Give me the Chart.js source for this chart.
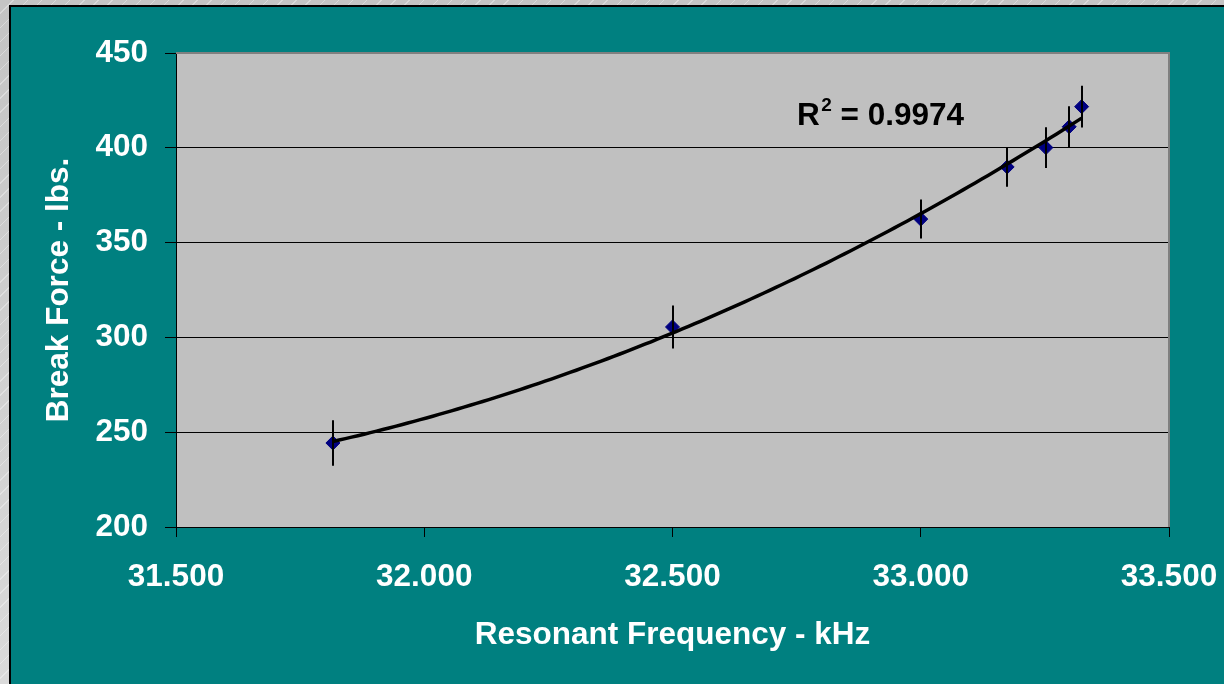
<!DOCTYPE html>
<html>
<head>
<meta charset="utf-8">
<title>Break Force vs Resonant Frequency</title>
<script src="https://cdn.jsdelivr.net/npm/chart.js@4.4.1/dist/chart.umd.min.js"></script>
<style>
  html, body { margin: 0; padding: 0; }
  body {
    width: 1224px; height: 684px; overflow: hidden; position: relative;
    background-color: #d2d2d2;
    background-image:
      repeating-linear-gradient(-45deg, rgba(255,255,255,0) 0px, rgba(255,255,255,0) 9px, rgba(255,255,255,0.35) 9px, rgba(255,255,255,0.35) 10px),
      linear-gradient(180deg, #c4c4c4 0%, #dadada 100%);
  }
  #panel {
    position: absolute; left: 9px; top: 5px; right: -4px; bottom: -4px;
    background: #008080;
    border-left: 2px solid #000; border-top: 2px solid #000;
  }
  #chart { position: absolute; left: 0; top: 0; }
</style>
</head>
<body>
<div id="panel"></div>
<canvas id="chart" width="1224" height="684"></canvas>
<script>
// Measured samples: resonant frequency (kHz) and break force (lbs.)
const frequencyKHz = [31.816, 32.500, 33.000, 33.174, 33.252, 33.299, 33.324];
const breakForceLbs = [244.3, 305.5, 362.4, 389.9, 400.1, 411.1, 421.7];
// Spread of each measurement (+/- lbs.)
const forceError = [12.0, 11.3, 10.3, 10.4, 10.7, 10.8, 11.0];
// Axis tick values
const xTicks = [31.5, 32.0, 32.5, 33.0, 33.5];
const yTicks = [200, 250, 300, 350, 400, 450];
const rSquaredText = '0.9974';

const FONT = '"Liberation Sans", Arial, Helvetica, sans-serif';

// Second-order least-squares trend through the measured points
function quadFit(xs, ys) {
  const x0 = xs.reduce((a, b) => a + b, 0) / xs.length;
  let S = [0, 0, 0, 0, 0], T = [0, 0, 0];
  xs.forEach((x, i) => {
    const u = x - x0;
    for (let k = 0; k <= 4; k++) S[k] += Math.pow(u, k);
    for (let k = 0; k <= 2; k++) T[k] += ys[i] * Math.pow(u, k);
  });
  const A = [[S[0], S[1], S[2]], [S[1], S[2], S[3]], [S[2], S[3], S[4]]];
  const det = m => m[0][0]*(m[1][1]*m[2][2]-m[1][2]*m[2][1]) - m[0][1]*(m[1][0]*m[2][2]-m[1][2]*m[2][0]) + m[0][2]*(m[1][0]*m[2][1]-m[1][1]*m[2][0]);
  const D = det(A);
  const coef = [0, 1, 2].map(c => det(A.map((row, r) => row.map((v, j) => j === c ? T[r] : v))) / D);
  return x => { const u = x - x0; return coef[0] + coef[1]*u + coef[2]*u*u; };
}
const trend = quadFit(frequencyKHz, breakForceLbs);
const xMin = Math.min(...frequencyKHz), xMax = Math.max(...frequencyKHz);
const trendPoints = [];
for (let i = 0; i <= 120; i++) {
  const x = xMin + (xMax - xMin) * i / 120;
  trendPoints.push({ x: x, y: trend(x) });
}

const plotArea = {
  id: 'plotArea',
  beforeDraw(chart) {
    const { ctx, chartArea: a } = chart;
    ctx.save();
    ctx.fillStyle = '#c0c0c0';
    ctx.fillRect(a.left, a.top, a.right - a.left, a.bottom - a.top);
    ctx.restore();
  },
  beforeDatasetsDraw(chart) {
    const { ctx, chartArea: a } = chart;
    ctx.save();
    ctx.strokeStyle = '#808080';
    ctx.lineWidth = 2;
    ctx.beginPath();
    ctx.moveTo(a.left, a.top);
    ctx.lineTo(a.right, a.top);
    ctx.lineTo(a.right, a.bottom);
    ctx.stroke();
    ctx.restore();
  }
};

const errorBars = {
  id: 'errorBars',
  afterDatasetsDraw(chart) {
    const { ctx, scales: { x, y } } = chart;
    ctx.save();
    ctx.strokeStyle = '#000';
    ctx.lineWidth = 2;
    frequencyKHz.forEach((f, i) => {
      const px = Math.round(x.getPixelForValue(f));
      ctx.beginPath();
      ctx.moveTo(px, y.getPixelForValue(breakForceLbs[i] + forceError[i]));
      ctx.lineTo(px, y.getPixelForValue(breakForceLbs[i] - forceError[i]));
      ctx.stroke();
    });
    ctx.restore();
  }
};

const rSquaredLabel = {
  id: 'rSquaredLabel',
  afterDraw(chart) {
    const { ctx, scales: { x, y } } = chart;
    const px = x.getPixelForValue(32.7508);
    const py = y.getPixelForValue(412.0);
    ctx.save();
    ctx.fillStyle = '#000';
    ctx.textBaseline = 'alphabetic';
    ctx.textAlign = 'left';
    ctx.font = 'bold 31.5px ' + FONT;
    ctx.fillText('R', px, py);
    const wR = ctx.measureText('R').width;
    ctx.font = 'bold 19px ' + FONT;
    ctx.fillText('2', px + wR + 1.5, py - 14.3);
    const w2 = ctx.measureText('2').width;
    ctx.font = 'bold 31.5px ' + FONT;
    ctx.fillText(' = ' + rSquaredText, px + wR + 1.5 + w2, py);
    ctx.restore();
  }
};

new Chart(document.getElementById('chart'), {
  type: 'scatter',
  data: {
    datasets: [
      {
        label: 'Trend',
        type: 'line',
        data: trendPoints,
        borderColor: '#000',
        borderWidth: 3.5,
        pointRadius: 0,
        fill: false,
        tension: 0
      },
      {
        label: 'Break Force',
        data: frequencyKHz.map((f, i) => ({ x: f, y: breakForceLbs[i] })),
        pointStyle: 'rectRot',
        pointRadius: 7,
        pointBackgroundColor: '#000080',
        pointBorderColor: '#000080',
        pointBorderWidth: 1,
        showLine: false
      }
    ]
  },
  options: {
    responsive: false,
    animation: false,
    devicePixelRatio: 1,
    layout: { padding: { left: 0, top: 53, right: 55, bottom: 0 } },
    plugins: { legend: { display: false }, tooltip: { enabled: false } },
    scales: {
      x: {
        type: 'linear',
        min: 31.5, max: 33.5,
        afterFit(s) { s.height = 157; s.paddingLeft = 0; s.paddingRight = 0; },
        afterBuildTicks(s) { s.ticks = xTicks.map(v => ({ value: v })); },
        ticks: {
          color: '#fff',
          font: { family: FONT, size: 31.5, weight: 'bold' },
          padding: 21,
          maxRotation: 0,
          callback: v => Number(v).toFixed(3)
        },
        grid: { drawOnChartArea: false, drawTicks: true, tickLength: 10, tickColor: '#000', tickWidth: 1 },
        border: { display: true, color: '#000', width: 1 },
        title: {
          display: true,
          text: 'Resonant Frequency - kHz',
          color: '#fff',
          font: { family: FONT, size: 31.5, weight: 'bold' },
          padding: { top: 0, bottom: 30 }
        }
      },
      y: {
        type: 'linear',
        min: 200, max: 450,
        afterFit(s) { s.width = 176; s.paddingTop = 0; s.paddingBottom = 0; },
        afterBuildTicks(s) { s.ticks = yTicks.map(v => ({ value: v })); },
        ticks: {
          color: '#fff',
          font: { family: FONT, size: 31.5, weight: 'bold' },
          padding: 17
        },
        grid: {
          color: c => (c.tick && c.tick.value === 450 ? '#808080' : '#000'),
          lineWidth: 1,
          tickLength: 11,
          tickColor: '#000'
        },
        border: { display: true, color: '#000', width: 1 },
        title: {
          display: true,
          text: 'Break Force - lbs.',
          color: '#fff',
          font: { family: FONT, size: 31.5, weight: 'bold' },
          padding: { top: 40, bottom: 0 }
        }
      }
    }
  },
  plugins: [plotArea, errorBars, rSquaredLabel]
});
</script>
</body>
</html>
